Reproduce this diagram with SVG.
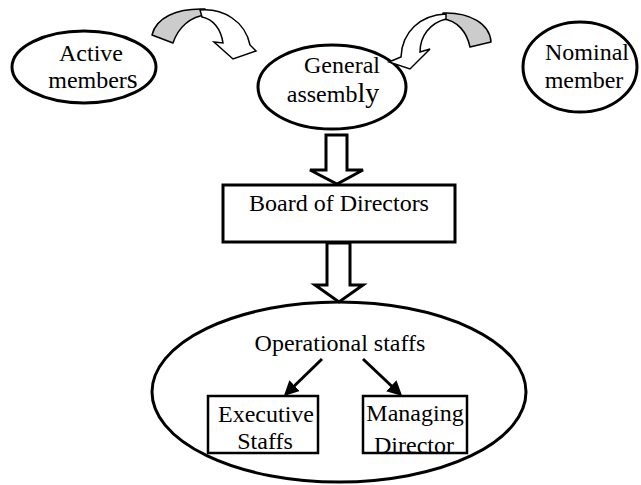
<svg xmlns="http://www.w3.org/2000/svg" width="641" height="485" viewBox="0 0 641 485">
<defs>
<style>
.shape{fill:#fff;stroke:#000;stroke-width:3}
.box{fill:#fff;stroke:#000;stroke-width:2.5}
.t{font-family:"Liberation Serif","Times New Roman",serif;font-size:24px;fill:#000;text-anchor:middle}
.hollow{fill:#fff;stroke:#000;stroke-width:3;stroke-linejoin:miter}
.curveGrey{fill:#cccccc;stroke:#000;stroke-width:1.5;stroke-linejoin:round}
.curveWhite{fill:#fff;stroke:#000;stroke-width:1.5;stroke-linejoin:miter}
.thin{stroke:#000;stroke-width:3;fill:none}
</style>
<marker id="ah" markerWidth="5" markerHeight="5" refX="4" refY="2.5" orient="auto" markerUnits="strokeWidth">
<path d="M0,0 L5,2.5 L0,5 Z" fill="#000"/>
</marker>
</defs>

<g id="active-members">
<ellipse class="shape" cx="84" cy="67" rx="72" ry="36"/>
<text class="t" x="91" y="61" font-size="26">Active</text>
<text class="t" x="93" y="88">member<tspan font-size="28">s</tspan></text>
</g>

<g id="general-assembly">
<ellipse class="shape" cx="332" cy="87" rx="74" ry="42"/>
<text class="t" x="342" y="73">General</text>
<text class="t" x="333" y="102">assemb<tspan font-size="28">ly</tspan></text>
</g>

<g id="nominal-member">
<ellipse class="shape" cx="580" cy="67" rx="57" ry="45"/>
<text class="t" x="587" y="60">Nominal</text>
<text class="t" x="584" y="88">member</text>
</g>

<g id="board-of-directors">
<rect class="shape" x="223" y="185" width="232" height="57"/>
<text class="t" x="339" y="211">Board of Directors</text>
</g>

<g id="operational-staffs">
<ellipse class="shape" cx="339" cy="392" rx="187" ry="90"/>
<text class="t" x="340" y="351">Operational staffs</text>
</g>

<g id="executive-staffs">
<rect class="box" x="208" y="396" width="110" height="57"/>
<text class="t" x="266" y="422">Executive</text>
<text class="t" x="265" y="449">Staffs</text>
</g>

<g id="managing-director">
<rect class="box" x="363" y="396" width="104" height="57"/>
<text class="t" x="415" y="421">Managing</text>
<text class="t" x="414" y="453" font-size="29">Director</text>
</g>

<g id="connectors">
<path class="curveGrey" d="M152,35 C156,18 176,8 205,9 L207,15 C190,16 178,28 173,43 Z"/>
<path class="curveWhite" d="M200,10 C223,8 245,21 250,45 L256,51 L233,59 L214,42 L223,43 C221,29 213,19 202,17 Z"/>
<path class="curveGrey" d="M491,42 C490,24 470,12 443,13 L442,19 C458,20 467,33 470,47 Z"/>
<path class="curveWhite" d="M446,14 C420,15 402,32 401,57 L389,62 L410,69 L430,49 L420,52 C420,36 430,23 446,19 Z"/>
<path class="hollow" d="M326,135 L347,135 L347,170 L363,170 L337,184 L310,170 L326,170 Z"/>
<path class="hollow" d="M327,243 L350,243 L350,285 L363,285 L339,302 L315,285 L327,285 Z"/>
<line class="thin" x1="322" y1="359" x2="286" y2="394" marker-end="url(#ah)"/>
<line class="thin" x1="363" y1="359" x2="400" y2="394" marker-end="url(#ah)"/>
</g>
</svg>
